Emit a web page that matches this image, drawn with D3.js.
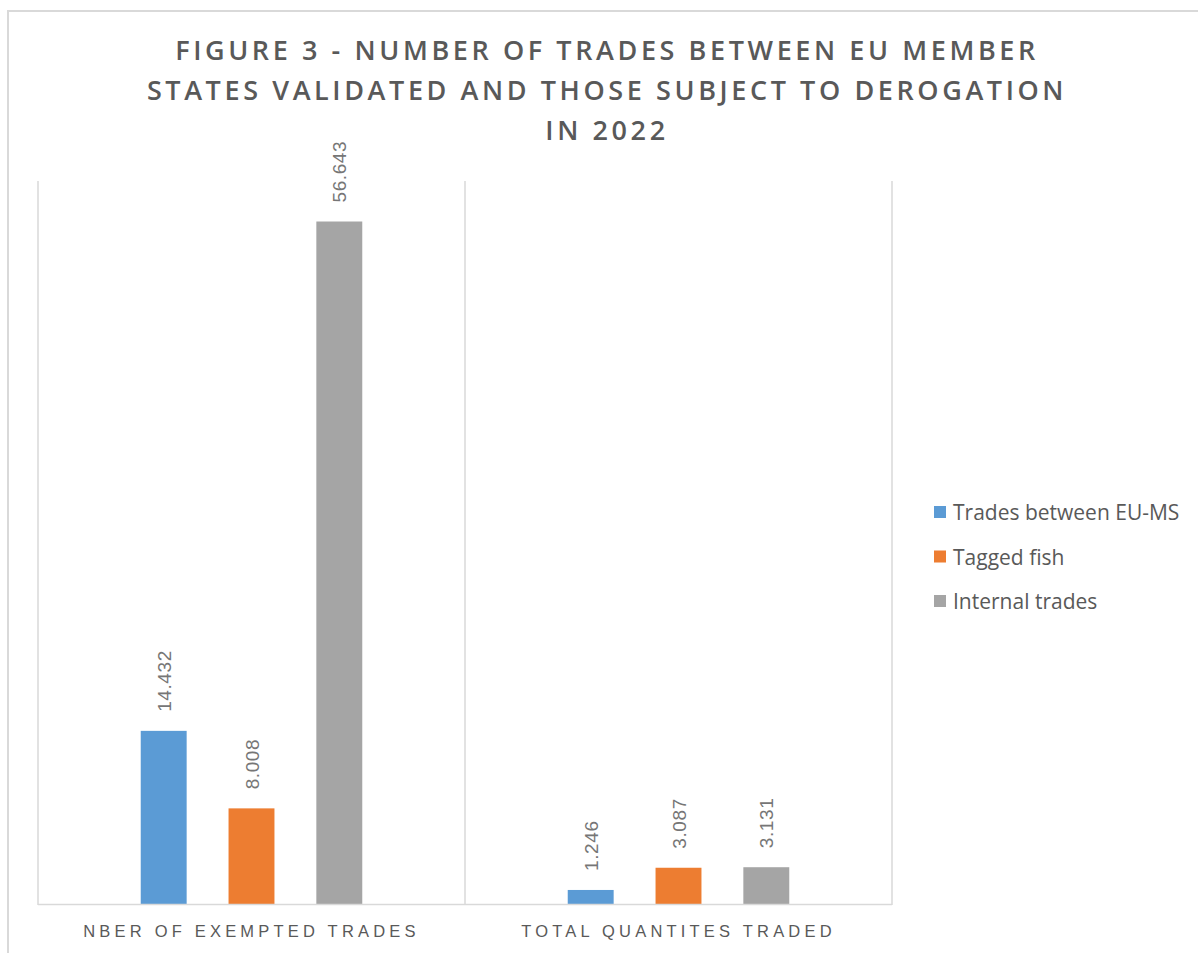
<!DOCTYPE html>
<html>
<head>
<meta charset="utf-8">
<script src="https://cdn.jsdelivr.net/npm/d3@7"></script>
<style>
  body { margin: 0; background: #fff; }
</style>
</head>
<body>
<div class="canvas"></div>
<script>
// chart data
const categories = ['NBER OF EXEMPTED TRADES', 'TOTAL QUANTITES TRADED']
const seriesNames = ['Trades between EU-MS', 'Tagged fish', 'Internal trades']
const seriesColors = ['#5B9BD5', '#ED7D31', '#A5A5A5']
const tradesEU = [14432, 1246]
const taggedFish = [8008, 3087]
const internalTrades = [56643, 3131]
const titleLines = [
  'FIGURE 3 - NUMBER OF TRADES BETWEEN EU MEMBER',
  'STATES VALIDATED AND THOSE SUBJECT TO DEROGATION',
  'IN 2022'
]

const seriesValues = [tradesEU, taggedFish, internalTrades]

const width = 1198
const height = 953
const plot = { left: 38, right: 892, top: 181, bottom: 905 }

const svg = d3.select('.canvas').append('svg')
    .attr('width', width)
    .attr('height', height)

// outer chart frame (runs off the right and bottom)
svg.append('rect')
    .attr('x', 8)
    .attr('y', 11)
    .attr('width', 1220)
    .attr('height', 980)
    .attr('fill', 'none')
    .attr('stroke', '#d9d9d9')
    .attr('stroke-width', 2)

// title
svg.append('text')
    .attr('text-anchor', 'middle')
    .attr('fill', '#595959')
    .style('font-family', 'Open Sans')
    .style('font-weight', '600')
    .style('font-size', '27px')
    .style('letter-spacing', '3.6px')
    .selectAll('tspan')
    .data(titleLines)
    .join('tspan')
    .attr('x', 607)
    .attr('y', (d, i) => 60 + i * 40)
    .text(d => d)

const x = d3.scaleBand()
    .domain(categories)
    .range([plot.left, plot.right])
    .padding(0)

const xSub = d3.scaleBand()
    .domain(d3.range(seriesNames.length))
    .range([0, x.bandwidth()])
    .paddingInner(0.477)
    .paddingOuter(1.17)

const y = d3.scaleLinear()
    .domain([0, 60000])
    .range([plot.bottom, plot.top])

// category separators
const edges = categories.map(c => x(c)).concat([plot.right])
svg.selectAll('.sep')
    .data(edges)
    .join('line')
    .attr('x1', d => d)
    .attr('x2', d => d)
    .attr('y1', plot.top)
    .attr('y2', plot.bottom)
    .attr('stroke', '#d9d9d9')
    .attr('stroke-width', 1.5)

// bars
const groups = svg.selectAll('.cat')
    .data(categories)
    .join('g')
    .attr('transform', d => `translate(${x(d)},0)`)

const locale = d3.formatLocale({ decimal: ',', thousands: '.', grouping: [3], currency: ['', ''] })
const fmt = locale.format(',')

groups.each(function (cat, ci) {
  const g = d3.select(this)
  const vals = seriesValues.map((s, si) => ({ si, v: s[ci] }))
  g.selectAll('rect')
      .data(vals)
      .join('rect')
      .attr('x', d => xSub(d.si))
      .attr('width', xSub.bandwidth())
      .attr('y', d => y(d.v))
      .attr('height', d => y(0) - y(d.v))
      .attr('fill', d => seriesColors[d.si])

  g.selectAll('text')
      .data(vals)
      .join('text')
      .attr('transform', d => `translate(${xSub(d.si) + xSub.bandwidth() / 2 + 7},${y(d.v) - 19}) rotate(-90)`)
      .attr('fill', '#767676')
      .style('font-family', 'Liberation Sans')
      .style('font-size', '19px')
      .style('letter-spacing', '0.6px')
      .text(d => fmt(d.v))
})

// x axis line
svg.append('line')
    .attr('x1', plot.left)
    .attr('x2', plot.right)
    .attr('y1', plot.bottom - 0.5)
    .attr('y2', plot.bottom - 0.5)
    .attr('stroke', '#d9d9d9')
    .attr('stroke-width', 1.5)

// category labels
svg.selectAll('.catlabel')
    .data(categories)
    .join('text')
    .attr('x', d => x(d) + x.bandwidth() / 2)
    .attr('y', 937)
    .attr('text-anchor', 'middle')
    .attr('fill', '#595959')
    .style('font-family', 'Liberation Sans')
    .style('font-size', '16.5px')
    .style('letter-spacing', '4.2px')
    .text(d => d)

// legend
const legend = svg.selectAll('.legend')
    .data(seriesNames)
    .join('g')
    .attr('transform', (d, i) => `translate(934,${512 + i * 44.5})`)

legend.append('rect')
    .attr('x', 0)
    .attr('y', -6)
    .attr('width', 12)
    .attr('height', 12)
    .attr('fill', (d, i) => seriesColors[i])

legend.append('text')
    .attr('x', 19)
    .attr('y', 8)
    .attr('fill', '#595959')
    .style('font-family', 'Open Sans')
    .style('font-size', '21px')
    .text(d => d)
</script>
</body>
</html>
